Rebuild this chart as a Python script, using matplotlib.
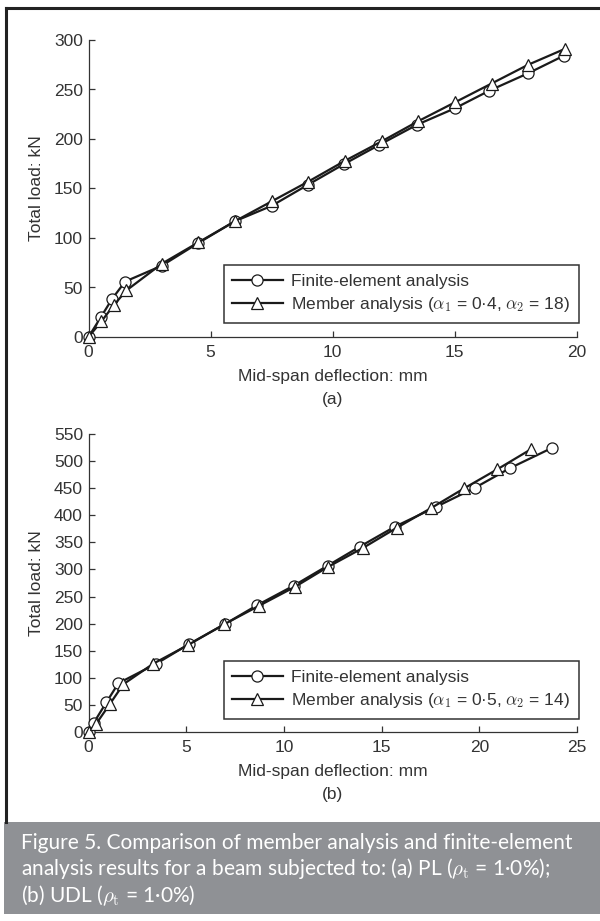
import matplotlib
matplotlib.use("Agg")
import matplotlib.pyplot as plt
from matplotlib.lines import Line2D
from matplotlib.patches import Rectangle

# (a) point load, rho_t = 1.0%
fe_a_x = [0, 0.5, 0.97, 1.5, 3.0, 4.5, 6.0, 7.5, 9.0, 10.45, 11.9, 13.45, 15.0, 16.4, 18.0, 19.45]
fe_a_y = [0, 19.8, 38.6, 56, 72, 95, 117, 132.5, 154, 174.5, 194, 214.4, 231, 248.7, 266.4, 284]
ma_a_x = [0, 0.53, 1.03, 1.55, 3.0, 4.5, 6.0, 7.5, 9.0, 10.5, 12.0, 13.5, 15.0, 16.5, 18.0, 19.5]
ma_a_y = [0, 15.8, 32, 47, 74, 95.6, 117, 137, 157, 178, 197.6, 218, 237, 256, 275, 291]

# (b) UDL, rho_t = 1.0%
fe_b_x = [0, 0.27, 0.92, 1.53, 3.47, 5.13, 6.97, 8.63, 10.5, 12.24, 13.88, 15.68, 17.76, 19.79, 21.57, 23.7]
fe_b_y = [0, 17, 55, 90, 126, 162, 199, 234, 270, 307, 342, 379, 415, 451, 487, 524]
ma_b_x = [0, 0.39, 1.1, 1.78, 3.31, 5.07, 6.93, 8.73, 10.57, 12.27, 14.06, 15.78, 17.52, 19.24, 20.93, 22.65]
ma_b_y = [0, 15, 52, 88, 126, 160, 198.5, 233, 268, 305, 340, 377, 413, 450, 485, 522]

label_fe = "Finite-element analysis"
label_ma_a = r"Member analysis ($\alpha_1$ = 0·4, $\alpha_2$ = 18)"
label_ma_b = r"Member analysis ($\alpha_1$ = 0·5, $\alpha_2$ = 14)"
caption = ("Figure 5. Comparison of member analysis and finite-element\n"
           r"analysis results for a beam subjected to: (a) PL ($\rho_{\rm t}$ = 1·0%);" "\n"
           r"(b) UDL ($\rho_{\rm t}$ = 1·0%)")

TXT = "#333333"
FS = 12.5
plt.rcParams["font.family"] = ["Liberation Sans", "DejaVu Sans"]
plt.rcParams["mathtext.fontset"] = "cm"

fig = plt.figure(figsize=(6, 9.21), dpi=100)
H = 921.0


def style_axes(ax, xmax, ymax, ystep, sub):
    for s in ["top", "right"]:
        ax.spines[s].set_visible(False)
    for s in ["left", "bottom"]:
        ax.spines[s].set_color(TXT)
        ax.spines[s].set_linewidth(0.9)
    ax.set_xlim(0, xmax)
    ax.set_ylim(0, ymax)
    ax.set_xticks(range(0, xmax + 1, 5))
    ax.set_yticks(range(0, ymax + 1, ystep))
    ax.tick_params(direction="in", length=4, width=0.9, color=TXT,
                   labelsize=FS, labelcolor=TXT)
    ax.tick_params(axis="x", pad=6)
    ax.tick_params(axis="y", pad=4)
    ax.set_xlabel("Mid-span deflection: mm\n" + sub, fontsize=FS, color=TXT,
                  labelpad=6, linespacing=1.7)
    ax.set_ylabel("Total load: kN", fontsize=FS, color=TXT, labelpad=7)


def draw(ax, fx, fy, mx, my, lab_ma, ylo):
    kw = dict(color="#1a1a1a", lw=1.6, mfc="white", mec="#1a1a1a", mew=0.9, clip_on=False)
    ax.plot(fx, fy, marker="o", ms=8, label=label_fe, zorder=3, **kw)
    ax.plot(mx, my, marker="^", ms=8.5, label=lab_ma, zorder=3, **kw)
    leg = ax.legend(loc="lower right", bbox_to_anchor=(1.004, ylo), fontsize=FS,
                    frameon=True, fancybox=False, framealpha=1, edgecolor="#333333",
                    handlelength=2.9, borderpad=0.5, labelspacing=0.35,
                    handletextpad=0.5, borderaxespad=0)
    leg.get_frame().set_linewidth(1.1)
    for t in leg.get_texts():
        t.set_color(TXT)


ax1 = fig.add_axes([88.5 / 600, 1 - 337 / H, (577 - 88.5) / 600, (337 - 40) / H])
draw(ax1, fe_a_x, fe_a_y, ma_a_x, ma_a_y, label_ma_a, 0.047)
style_axes(ax1, 20, 300, 50, "(a)")

ax2 = fig.add_axes([88.5 / 600, 1 - 732 / H, (577 - 88.5) / 600, (732 - 434) / H])
draw(ax2, fe_b_x, fe_b_y, ma_b_x, ma_b_y, label_ma_b, 0.045)
style_axes(ax2, 25, 550, 50, "(b)")

# frame lines and caption box
fig.add_artist(Line2D([5.5 / 600, 5.5 / 600], [1 - 822 / H, 1 - 8 / H], color="#222222", lw=2.2))
fig.add_artist(Line2D([5.5 / 600, 1.0], [1 - 8 / H, 1 - 8 / H], color="#222222", lw=2.2))
fig.add_artist(Rectangle((4 / 600, 1 - 914 / H), 1, 92 / H, color="#8f9195", lw=0))
fig.text(21 / 600, 1 - 833 / H, caption, color="white", fontsize=15, va="top", ha="left",
         family=["Lato", "DejaVu Sans"], linespacing=1.15)

fig.savefig("out.png", dpi=100, facecolor="white")
